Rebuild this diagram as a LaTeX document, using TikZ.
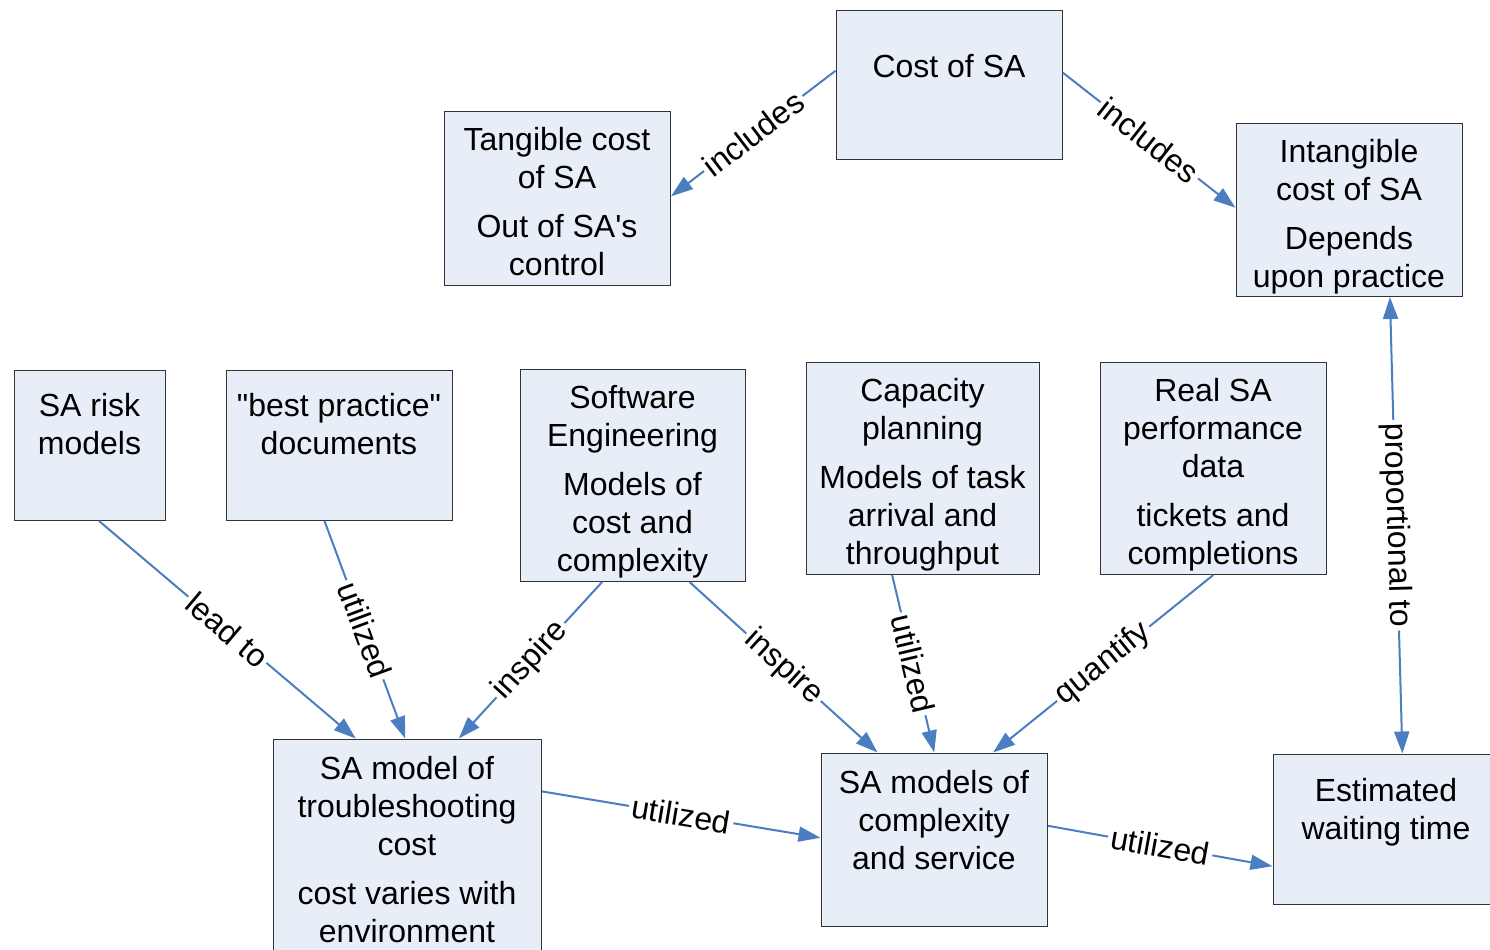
\documentclass[tikz,border=0pt]{standalone}
\usepackage{fontspec}
\setmainfont{Liberation Sans}[Ligatures=TeXOff]
\usetikzlibrary{arrows.meta}
\definecolor{boxfill}{RGB}{232,238,247}
\definecolor{boxline}{RGB}{51,51,51}
\definecolor{link}{RGB}{74,126,193}
\begin{document}
\begin{tikzpicture}[x=0.5pt,y=-0.5pt,
  box/.style={draw=boxline,fill=boxfill,line width=0.75pt,inner sep=0pt,anchor=north west},
  txt/.style={font=\fontsize{16}{19}\selectfont,align=center,inner sep=0pt,anchor=north,
              execute at begin node=\strut},
  conn/.style={draw=link,line width=1pt,-{Triangle[length=11pt,width=7.5pt]}},
  both/.style={draw=link,line width=1pt,{Triangle[length=11pt,width=7.5pt]}-{Triangle[length=11pt,width=7.5pt]}},
  lbl/.style={font=\fontsize{16}{19}\selectfont,fill=white,inner sep=1.5pt,sloped,midway}]
\useasboundingbox (0,0) rectangle (1490,949);
\clip (0,0) rectangle (1490,949);

% boxes
\node[box,minimum width=113pt,minimum height=74.5pt] (cost) at (835.5,9.5) {};
\node[box,minimum width=113pt,minimum height=87pt] (tang) at (443.5,110.5) {};
\node[box,minimum width=113pt,minimum height=86.5pt] (intang) at (1235.5,122.5) {};
\node[box,minimum width=75.5pt,minimum height=75pt] (risk) at (13.5,369.5) {};
\node[box,minimum width=113pt,minimum height=75pt] (best) at (225.5,369.5) {};
\node[box,minimum width=112.5pt,minimum height=106pt] (swe) at (519.5,368.5) {};
\node[box,minimum width=116.5pt,minimum height=106pt] (cap) at (805.5,361.5) {};
\node[box,minimum width=113pt,minimum height=106pt] (real) at (1099.5,361.5) {};
\node[box,minimum width=134pt,minimum height=115pt] (trouble) at (272.5,738.5) {};
\node[box,minimum width=113pt,minimum height=86.5pt] (cplx) at (820.5,752.5) {};
\node[box,minimum width=113pt,minimum height=75pt] (wait) at (1272.5,753.5) {};

% box texts
\node[txt] (cost-t) at (949,50.4) {Cost of SA};
\node[txt] (tang-t) at (557,127.4) {Tangible cost\\of SA\\[5.5pt]Out of SA's\\control};
\node[txt] (intang-t) at (1349,139.4) {Intangible\\cost of SA\\[5.5pt]Depends\\upon practice};
\node[txt] (risk-t) at (89.5,393.4) {SA risk\\models};
\node[txt] (best-t) at (339,393.4) {"best practice"\\documents};
\node[txt] (swe-t) at (632.5,385.4) {Software\\Engineering\\[5.5pt]Models of\\cost and\\complexity};
\node[txt] (cap-t) at (922.5,378.4) {Capacity\\planning\\[5.5pt]Models of task\\arrival and\\throughput};
\node[txt] (real-t) at (1213,378.4) {Real SA\\performance\\data\\[5.5pt]tickets and\\completions};
\node[txt] (trouble-t) at (407,755.4) {SA model of\\troubleshooting\\cost\\[5.5pt]cost varies with\\environment};
\node[txt] (cplx-t) at (934,769.4) {SA models of\\complexity\\and service};
\node[txt] (wait-t) at (1386,777.4) {Estimated\\waiting time};

% connectors
\draw[conn] (cost.173.7) -- node[lbl] (l1) {includes} (tang.1.5);
\draw[conn] (cost.6.3) -- node[lbl] (l2) {includes} (intang.179.2);
\draw[conn] (risk.277.2) -- node[lbl] (l3) {lead to} (trouble.114.1);
\draw[conn] (best.259.4) -- node[lbl] (l4) {utilized} (trouble.91);
\draw[conn] (swe.254.95) -- node[lbl] (l5) {inspire} (trouble.66.3);
\draw[conn] (swe.298.1) -- node[lbl] (l6) {inspire} (cplx.123.1);
\draw[conn] (cap.254.95) -- node[lbl] (l7) {utilized} (cplx.90.7);
\draw[conn] (real.270) -- node[lbl] (l8) {quantify} (cplx.56);
\draw[both] (intang.295.6) -- node[lbl] (l9) {proportional to} (wait.78.7);
\draw[conn] (trouble.25.2) -- node[lbl] (l10) {utilized} (cplx.179.2);
\draw[conn] (cplx.7.3) -- node[lbl] (l11) {utilized} (wait.198.1);
\end{tikzpicture}
\end{document}
